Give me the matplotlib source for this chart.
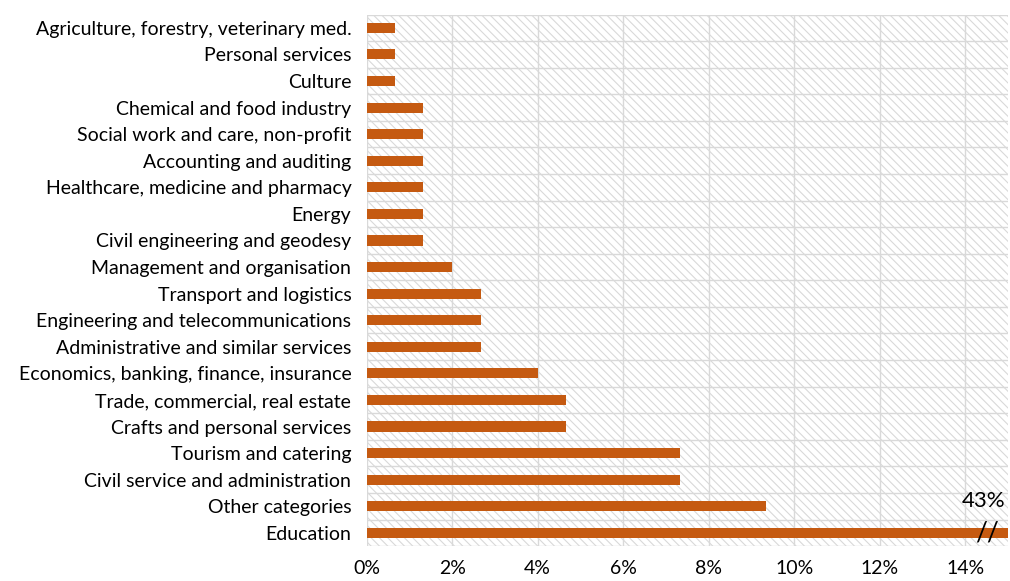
import numpy as np
import matplotlib
matplotlib.use("Agg")
import matplotlib.pyplot as plt

plt.rcParams["font.family"] = ["Lato", "DejaVu Sans"]
plt.rcParams["hatch.color"] = "#d9d9d9"
plt.rcParams["hatch.linewidth"] = 0.8

# categories listed bottom -> top
categories = [
    "Education", "Other categories", "Civil service and administration",
    "Tourism and catering", "Crafts and personal services",
    "Trade, commercial, real estate", "Economics, banking, finance, insurance",
    "Administrative and similar services", "Engineering and telecommunications",
    "Transport and logistics", "Management and organisation",
    "Civil engineering and geodesy", "Energy", "Healthcare, medicine and pharmacy",
    "Accounting and auditing", "Social work and care, non-profit",
    "Chemical and food industry", "Culture", "Personal services",
    "Agriculture, forestry, veterinary med.",
]
shares = [43.0, 9.33, 7.33, 7.33, 4.67, 4.67, 4.0, 2.67, 2.67, 2.67, 2.0,
          1.33, 1.33, 1.33, 1.33, 1.33, 1.33, 0.67, 0.67, 0.67]
xticks = [0, 2, 4, 6, 8, 10, 12, 14]
xmax = 15

fig, ax = plt.subplots(figsize=(10.1, 5.81), dpi=100)
fig.subplots_adjust(left=0.363, right=0.998, top=0.975, bottom=0.06)

y = np.arange(len(categories))
ax.set_xlim(0, xmax)
ax.set_ylim(-0.5, len(categories) - 0.5)

# hatched plot background
ax.axvspan(0, xmax, facecolor="white", edgecolor="#d9d9d9", hatch="\\\\\\\\",
           lw=0, zorder=0)

ax.barh(y, shares, height=0.38, color="#C55A11", zorder=3)

# gridlines
for v in xticks:
    ax.axvline(v, color="#d9d9d9", lw=1, zorder=1)
for k in range(len(categories) + 1):
    ax.axhline(k - 0.5, color="#d9d9d9", lw=1, zorder=1)

ax.set_yticks(y)
ax.set_yticklabels(categories, fontsize=14)
ax.set_xticks(xticks)
ax.set_xticklabels([f"{v}%" for v in xticks], fontsize=14)
ax.tick_params(axis="y", length=0, pad=11)
ax.tick_params(axis="x", length=0, pad=10)
for s in ax.spines.values():
    s.set_visible(False)

# axis-break mark and true value of the clipped bar
ax.text(14.5, 0.0, "//", fontsize=19, ha="center", va="center", zorder=4)
ax.text(14.95, 1.2, f"{shares[0]:.0f}%", fontsize=16, ha="right", va="center",
        zorder=4)

fig.savefig("out.png", dpi=100)
